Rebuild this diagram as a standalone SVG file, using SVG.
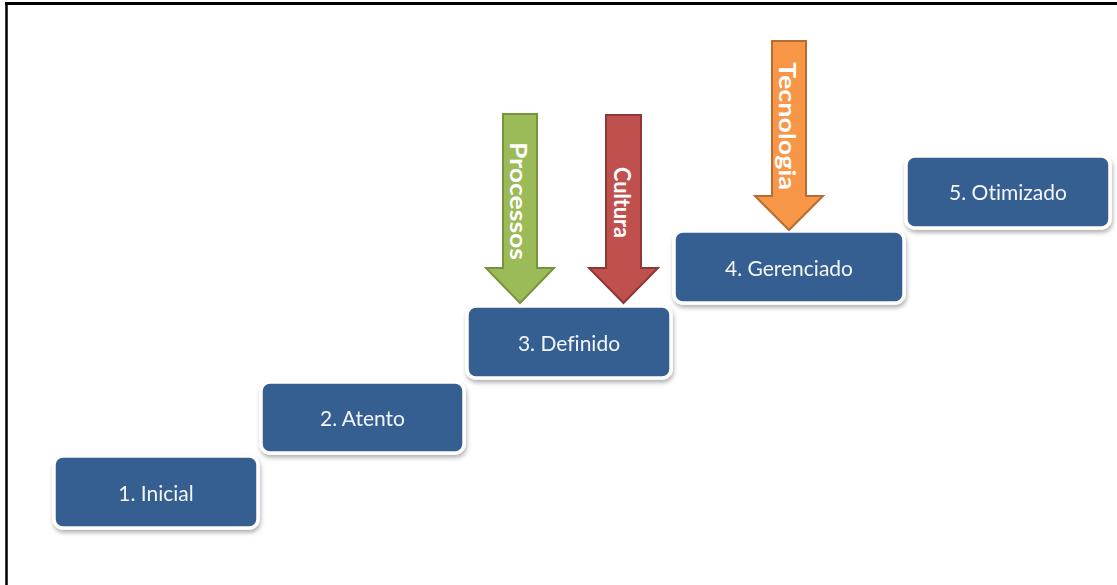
<svg xmlns="http://www.w3.org/2000/svg" width="1117" height="585" viewBox="0 0 1117 585">
  <defs>
    <style>
      .step rect { fill: #355E91; stroke: #ffffff; stroke-width: 3.5; }
      .step text { fill: #f4f6fa; font-family: Lato, "Open Sans", "Liberation Sans", sans-serif; font-size: 21px; text-anchor: middle; dominant-baseline: central; font-variant-ligatures: none; }
      .arrow text { fill: #ffffff; font-family: Lato, "Liberation Sans", sans-serif; font-weight: bold; font-size: 22px; dominant-baseline: central; font-variant-ligatures: none; }
      .green path { fill: #9BBB59; stroke: #77933C; stroke-width: 2; }
      .red path { fill: #C0504D; stroke: #8C3836; stroke-width: 2; }
      .orange path { fill: #F79646; stroke: #B66D31; stroke-width: 2; }
    </style>
    <filter id="shadow" x="-10%" y="-20%" width="120%" height="150%">
      <feDropShadow dx="1" dy="3" stdDeviation="2" flood-color="#000000" flood-opacity="0.3"/>
    </filter>
  </defs>

  <rect width="1117" height="585" fill="#ffffff"/>
  <!-- frame -->
  <line x1="5" y1="3.5" x2="1117" y2="3.5" stroke="#000000" stroke-width="3"/>
  <line x1="6.5" y1="3" x2="6.5" y2="585" stroke="#000000" stroke-width="2.5"/>

  <!-- maturity steps -->
  <g id="step1" class="step" filter="url(#shadow)">
    <rect x="54" y="456" width="204" height="72" rx="9"/>
    <text x="156" y="492">1. Inicial</text>
  </g>
  <g id="step2" class="step" filter="url(#shadow)">
    <rect x="261" y="382" width="203" height="71" rx="9"/>
    <text x="362.5" y="417">2. Atento</text>
  </g>
  <g id="step3" class="step" filter="url(#shadow)">
    <rect x="467" y="306" width="204" height="72" rx="9"/>
    <text x="569" y="342">3. Definido</text>
  </g>
  <g id="step4" class="step" filter="url(#shadow)">
    <rect x="674" y="231" width="230" height="72" rx="9"/>
    <text x="789" y="267">4. Gerenciado</text>
  </g>
  <g id="step5" class="step" filter="url(#shadow)">
    <rect x="906" y="156" width="204" height="72" rx="9"/>
    <text x="1008" y="191">5. Otimizado</text>
  </g>

  <!-- driver arrows -->
  <g id="connectors">
    <g id="processos" class="arrow green">
      <path d="M503 114 H537 V268 H554 L520 303 L486 268 H503 Z"/>
      <text transform="translate(518 142) rotate(90)" textLength="118" lengthAdjust="spacingAndGlyphs">Processos</text>
    </g>
    <g id="cultura" class="arrow red">
      <path d="M606 115 H641 V268 H658 L623.5 303 L589 268 H606 Z"/>
      <text transform="translate(622 167) rotate(90)" textLength="71" lengthAdjust="spacingAndGlyphs">Cultura</text>
    </g>
    <g id="tecnologia" class="arrow orange">
      <path d="M772 41 H806 V196 H823 L789 230 L755 196 H772 Z"/>
      <text transform="translate(787 62) rotate(90)" textLength="128" lengthAdjust="spacingAndGlyphs">Tecnologia</text>
    </g>
  </g>
</svg>
